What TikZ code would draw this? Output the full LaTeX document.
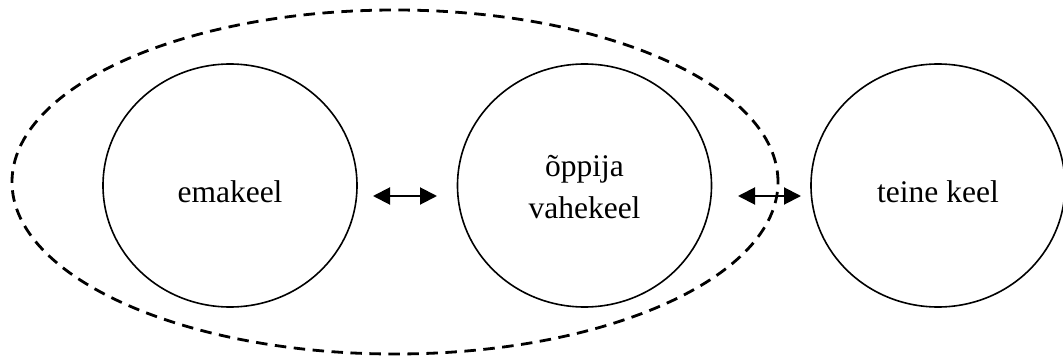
\documentclass[tikz,border=0pt]{standalone}
\usepackage{fontspec}
\setmainfont{Liberation Serif}
\usetikzlibrary{shapes.geometric,arrows.meta}
\begin{document}
\begin{tikzpicture}[x=1pt,y=-1pt,
  lang/.style={draw=black,line width=1.6pt,ellipse,minimum width=254pt,minimum height=243pt,inner sep=0pt,outer sep=0pt},
  txt/.style={font=\fontsize{31.5}{42}\selectfont,align=center,inner sep=0pt},
  grp/.style={draw=black,line width=2.8pt,ellipse,minimum width=766pt,minimum height=344pt,inner sep=0pt,
    dash pattern=on 11.5pt off 7.5pt},
  biarrow/.style={line width=2pt,{Triangle[length=17pt,width=17pt]}-{Triangle[length=17pt,width=17pt]}}]
\useasboundingbox (0,0) rectangle (1063,356);
\node[grp] (group) at (395,182) {};
\node[lang,label={[txt,yshift=-6pt]center:emakeel}] (ema) at (230,185.5) {};
\node[lang,label={[txt,yshift=-2pt]center:õppija\\vahekeel}] (vahe) at (584.5,185.5) {};
\node[lang,label={[txt,yshift=-6pt]center:teine keel}] (teine) at (938,185.5) {};
\coordinate (a1) at (373,196);
\coordinate (a2) at (437,196);
\coordinate (b1) at (738,196);
\coordinate (b2) at (801,196);
\draw[biarrow] (a1) -- (a2);
\draw[biarrow] (b1) -- (b2);
\end{tikzpicture}
\end{document}
